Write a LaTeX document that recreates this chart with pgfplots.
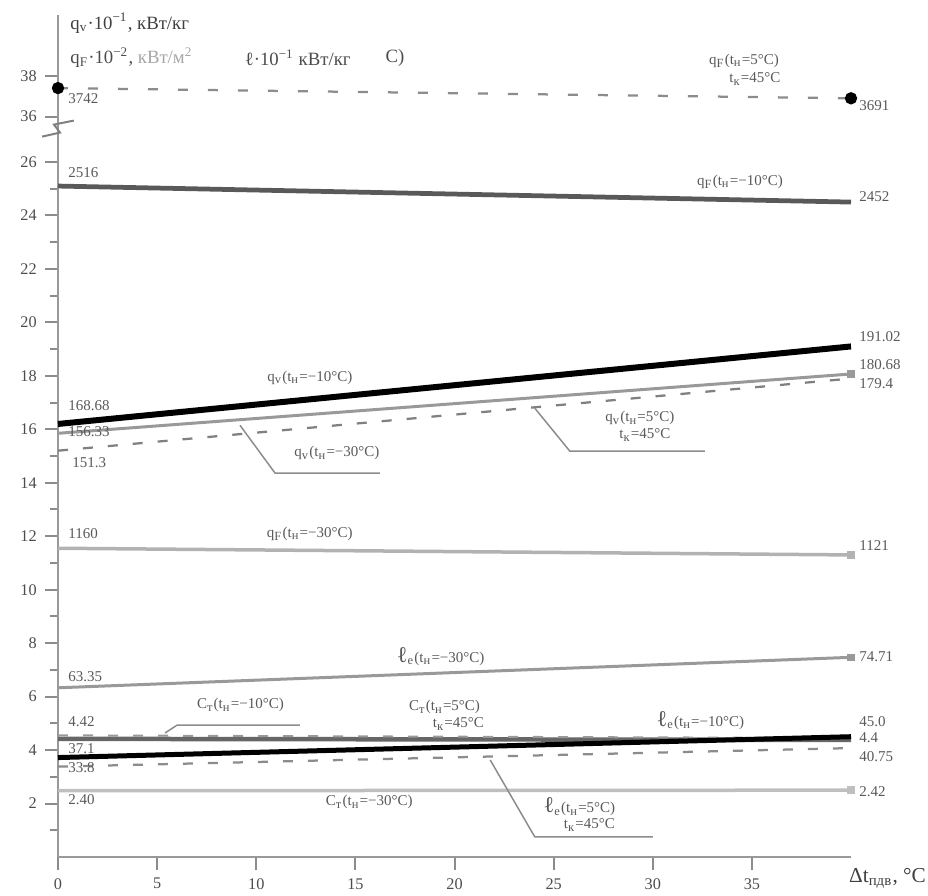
\documentclass[border=0pt]{standalone}
\usepackage{fontspec}
\setmainfont{Liberation Serif}
\usepackage{pgfplots}
\pgfplotsset{compat=1.18}
\begin{document}
\begin{tikzpicture}[font=\fontsize{6}{7}\selectfont,
  lab/.style={text=black!65, inner sep=0pt, font=\fontsize{6}{7}\selectfont},
  labl/.style={lab, anchor=west}]
\useasboundingbox (-23.2pt,-15.2pt) rectangle (348pt,342.8pt);
\begin{axis}[
  at={(0,0)}, anchor=south west, scale only axis,
  width=317.2pt, height=336.8pt,
  xmin=0, xmax=40, ymin=0, ymax=31.5,
  axis x line=bottom, axis y line=left,
  axis line style={-, black!40, line width=1.1pt},
  clip=false,
  xtick={0,5,...,35},
  ytick={2,4,...,26,27.7,29.2},
  yticklabels={2,4,6,8,10,12,14,16,18,20,22,24,26,36,38},
  minor ytick={1,3,...,25},
  tick align=outside,
  major tick length=5pt, minor tick length=3pt,
  tick style={black!45, line width=0.8pt},
  ticklabel style={text=black!70, font=\fontsize{6.5}{7}\selectfont},
  /pgf/number format/assume math mode=true,
  y filter/.expression={y>33 ? 27.7+(y-36)*0.75 : y},
]
% thin / light series
\addplot[black!30, line width=1.4pt, mark=square*, mark size=0.9pt, mark indices={2}] coordinates {(0,11.55) (40,11.3)};
\addplot[black!25, line width=1.4pt, mark=square*, mark size=0.9pt, mark indices={2}] coordinates {(0,2.48) (40,2.5)};
\addplot[black!40, line width=1.2pt, mark=square*, mark size=0.9pt, mark indices={2}] coordinates {(0,6.33) (40,7.47)};
\addplot[black!40, line width=1.2pt, mark=square*, mark size=0.9pt, mark indices={2}] coordinates {(0,15.85) (40,18.07)};
\addplot[black!50, line width=0.9pt, dash pattern=on 4pt off 6pt] coordinates {(0,15.2) (40,17.9)};
\addplot[black!45, line width=0.9pt, dash pattern=on 4pt off 6pt] coordinates {(0,3.38) (40,4.075)};
% top dashed (broken axis)
\addplot[black!45, line width=0.9pt, dash pattern=on 4pt off 8pt, mark=*, mark options={solid, black}, mark size=2pt] coordinates {(0,37.42) (40,36.91)};
% thick series
\addplot[black!65, line width=1.9pt] coordinates {(0,25.1) (40,24.5)};
\addplot[black!60, line width=1.8pt] coordinates {(0,4.42) (40,4.38)};
\addplot[black!40, line width=0.8pt, dash pattern=on 4pt off 6pt] coordinates {(0,4.55) (40,4.45)};
\addplot[black, line width=2pt] coordinates {(0,3.72) (40,4.5)};
\addplot[black, line width=2.4pt] coordinates {(0,16.2) (40,19.1)};

% axis break
\draw[black!50, line width=0.8pt] (axis cs:-0.8,26.95) -- (axis cs:0.1,27.1) -- (axis cs:-0.2,27.4) -- (axis cs:0.8,27.55);

% titles
\node[labl, text=black!75, font=\fontsize{7.5}{8}\selectfont] at (axis cs:0.6,31.2) {q\textsubscript{v}·10\textsuperscript{−1}, кВт/кг};
\node[labl, text=black!70, font=\fontsize{7.5}{8}\selectfont] at (axis cs:0.6,29.9) {q\textsubscript{F}·10\textsuperscript{−2}, \textcolor{black!35}{кВт/м\textsuperscript{2}}};
\node[labl, text=black!70, font=\fontsize{7.5}{8}\selectfont] at (axis cs:9.4,29.9) {ℓ·10\textsuperscript{−1} кВт/кг};
\node[labl, text=black!70, font=\fontsize{7.5}{8}\selectfont] at (axis cs:16.5,29.9) {C)};

% value labels
\node[labl] at (axis cs:0.5,28.37) {3742};
\node[labl] at (axis cs:40.4,28.12) {3691};
\node[lab] at (axis cs:34.6,29.8) {q\textsubscript{F}(t\textsubscript{н}=5°C)};
\node[lab] at (axis cs:35.15,29.1) {t\textsubscript{к}=45°C};
\node[labl] at (axis cs:0.5,25.6) {2516};
\node[labl] at (axis cs:40.4,24.7) {2452};
\node[lab] at (axis cs:34.4,25.27) {q\textsubscript{F}(t\textsubscript{н}=−10°C)};
\node[lab] at (axis cs:12.7,17.94) {q\textsubscript{v}(t\textsubscript{н}=−10°C)};
\node[labl] at (axis cs:0.5,16.9) {168.68};
\node[labl] at (axis cs:0.5,15.9) {156.33};
\node[labl] at (axis cs:0.7,14.77) {151.3};
\node[labl] at (axis cs:40.4,19.48) {191.02};
\node[labl] at (axis cs:40.4,18.43) {180.68};
\node[labl] at (axis cs:40.4,17.72) {179.4};
\node[lab] at (axis cs:14.07,15.1) {q\textsubscript{v}(t\textsubscript{н}=−30°C)};
\draw[black!45, line width=0.6pt] (axis cs:9.18,16.15) -- (axis cs:10.95,14.36) -- (axis cs:16.24,14.36);
\node[lab] at (axis cs:29.35,16.41) {q\textsubscript{v}(t\textsubscript{н}=5°C)};
\node[lab] at (axis cs:29.6,15.78) {t\textsubscript{к}=45°C};
\draw[black!45, line width=0.6pt] (axis cs:24.05,16.79) -- (axis cs:25.82,15.18) -- (axis cs:32.63,15.18);
\node[labl] at (axis cs:0.5,12.11) {1160};
\node[labl] at (axis cs:40.4,11.66) {1121};
\node[lab] at (axis cs:12.7,12.1) {q\textsubscript{F}(t\textsubscript{н}=−30°C)};
\node[labl] at (axis cs:0.5,6.73) {63.35};
\node[labl] at (axis cs:40.4,7.5) {74.71};
\node[lab] at (axis cs:19.3,7.51) {{\fontsize{9}{9}\selectfont ℓ}\textsubscript{e}(t\textsubscript{н}=−30°C)};
\node[lab] at (axis cs:9.2,5.68) {C\textsubscript{т}(t\textsubscript{н}=−10°C)};
\draw[black!45, line width=0.6pt] (axis cs:5.4,4.64) -- (axis cs:6.0,4.93) -- (axis cs:12.2,4.93);
\node[lab] at (axis cs:19.5,5.6) {C\textsubscript{т}(t\textsubscript{н}=5°C)};
\node[lab] at (axis cs:20.2,4.98) {t\textsubscript{к}=45°C};
\node[lab] at (axis cs:32.4,5.12) {{\fontsize{9}{9}\selectfont ℓ}\textsubscript{e}(t\textsubscript{н}=−10°C)};
\node[lab] at (axis cs:26.3,1.87) {{\fontsize{9}{9}\selectfont ℓ}\textsubscript{e}(t\textsubscript{н}=5°C)};
\node[lab] at (axis cs:26.8,1.2) {t\textsubscript{к}=45°C};
\draw[black!45, line width=0.6pt] (axis cs:21.8,3.63) -- (axis cs:24.05,0.75) -- (axis cs:30.0,0.75);
\node[lab] at (axis cs:15.7,2.06) {C\textsubscript{т}(t\textsubscript{н}=−30°C)};
\node[labl] at (axis cs:0.5,2.13) {2.40};
\node[labl] at (axis cs:40.4,2.43) {2.42};
\node[labl] at (axis cs:0.5,5.05) {4.42};
\node[labl] at (axis cs:0.5,4.07) {37.1};
\node[labl] at (axis cs:0.5,3.33) {33.8};
\node[labl] at (axis cs:40.4,5.05) {45.0};
\node[labl] at (axis cs:40.4,4.45) {4.4};
\node[labl] at (axis cs:40.4,3.74) {40.75};
\node[anchor=east, inner sep=0pt, text=black!75, font=\fontsize{8.5}{9}\selectfont] at (axis cs:43.8,-0.8) {Δt\textsubscript{пдв}, °C};
\end{axis}
\end{tikzpicture}
\end{document}
